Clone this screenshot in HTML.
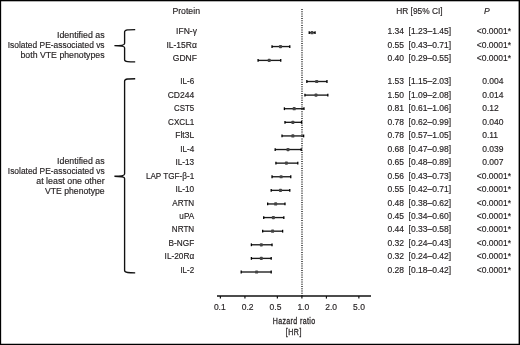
<!DOCTYPE html><html><head><meta charset="utf-8"><style>html,body{margin:0;padding:0;background:#fff;}svg{display:block;will-change:transform;}text{font-family:"Liberation Sans",sans-serif;fill:#231f20;stroke:#231f20;stroke-width:0.16px;}</style></head><body>
<svg width="520" height="345" viewBox="0 0 520 345">
<rect x="0" y="0" width="520" height="345" fill="#fff"/>
<rect x="0" y="0" width="520" height="1.3" fill="#000"/>
<rect x="0" y="0" width="1.15" height="345" fill="#000"/>
<rect x="518.6" y="0" width="1.4" height="345" fill="#000"/>
<rect x="0" y="343.75" width="520" height="1.25" fill="#000"/>
<text x="172.4" y="13.9" font-size="8.5" textLength="27.6" lengthAdjust="spacingAndGlyphs">Protein</text>
<text x="396.2" y="13.8" font-size="8.5" textLength="46.4" lengthAdjust="spacingAndGlyphs">HR [95% CI]</text>
<text x="483.9" y="13.8" font-size="8.5" font-style="italic">P</text>
<text x="57.00" y="37.6" font-size="8.5" textLength="47.6" lengthAdjust="spacingAndGlyphs">Identified as</text>
<text x="7.70" y="48.1" font-size="8.5" textLength="96.9" lengthAdjust="spacingAndGlyphs">Isolated PE-associated vs</text>
<text x="20.50" y="58.4" font-size="8.5" textLength="84.1" lengthAdjust="spacingAndGlyphs">both VTE phenotypes</text>
<text x="57.10" y="163.5" font-size="8.5" textLength="47.5" lengthAdjust="spacingAndGlyphs">Identified as</text>
<text x="7.80" y="173.8" font-size="8.5" textLength="96.8" lengthAdjust="spacingAndGlyphs">Isolated PE-associated vs</text>
<text x="36.30" y="184.2" font-size="8.5" textLength="68.3" lengthAdjust="spacingAndGlyphs">at least one other</text>
<text x="45.00" y="194.2" font-size="8.5" textLength="59.6" lengthAdjust="spacingAndGlyphs">VTE phenotype</text>
<path d="M135.2,29.6 C129.2,29.6 124.6,29.6 124.6,31.8 L124.6,43.4 C124.6,45.0 121.6,45.6 114.4,45.6 C121.6,45.6 124.6,46.2 124.6,47.800000000000004 L124.6,59.699999999999996 C124.6,61.9 129.2,61.9 135.2,61.9" fill="none" stroke="#111" stroke-width="1.35"/>
<path d="M135.2,78.7 C129.2,78.7 124.6,78.7 124.6,80.9 L124.6,174.0 C124.6,175.6 121.6,176.2 114.4,176.2 C121.6,176.2 124.6,176.79999999999998 124.6,178.39999999999998 L124.6,270.6 C124.6,272.8 129.2,272.8 135.2,272.8" fill="none" stroke="#111" stroke-width="1.35"/>
<line x1="302" y1="9" x2="302" y2="296" stroke="#1a1a1a" stroke-width="1.4" stroke-dasharray="1.0 1.27"/>
<text x="196.9" y="34.00" font-size="8.5" text-anchor="end">IFN-γ</text>
<text x="387.5" y="34.00" font-size="8.5">1.34</text>
<text x="408.6" y="34.00" font-size="8.5">[1.23–1.45]</text>
<text x="482.2" y="34.00" font-size="8.5"><tspan dx="-5.4">&lt;</tspan>0.0001*</text>
<line x1="309.23" y1="32.70" x2="315.05" y2="32.70" stroke="#1a1a1a" stroke-width="1.35"/>
<line x1="309.23" y1="31.30" x2="309.23" y2="34.10" stroke="#000" stroke-width="1.3"/>
<line x1="315.05" y1="31.30" x2="315.05" y2="34.10" stroke="#000" stroke-width="1.3"/>
<rect x="310.46" y="31.10" width="3.1" height="3.2" rx="0.9" fill="#444"/>
<text x="196.9" y="47.50" font-size="8.5" text-anchor="end">IL-15Rα</text>
<text x="387.5" y="47.50" font-size="8.5">0.55</text>
<text x="408.6" y="47.50" font-size="8.5">[0.43–0.71]</text>
<text x="482.2" y="47.50" font-size="8.5"><tspan dx="-5.4">&lt;</tspan>0.0001*</text>
<line x1="272.03" y1="46.55" x2="289.78" y2="46.55" stroke="#1a1a1a" stroke-width="1.35"/>
<line x1="272.03" y1="45.15" x2="272.03" y2="47.95" stroke="#000" stroke-width="1.3"/>
<line x1="289.78" y1="45.15" x2="289.78" y2="47.95" stroke="#000" stroke-width="1.3"/>
<rect x="278.94" y="44.95" width="3.1" height="3.2" rx="0.9" fill="#444"/>
<text x="196.9" y="61.00" font-size="8.5" text-anchor="end">GDNF</text>
<text x="387.5" y="61.00" font-size="8.5">0.40</text>
<text x="408.6" y="61.00" font-size="8.5">[0.29–0.55]</text>
<text x="482.2" y="61.00" font-size="8.5"><tspan dx="-5.4">&lt;</tspan>0.0001*</text>
<line x1="258.09" y1="60.40" x2="280.74" y2="60.40" stroke="#1a1a1a" stroke-width="1.35"/>
<line x1="258.09" y1="59.00" x2="258.09" y2="61.80" stroke="#000" stroke-width="1.3"/>
<line x1="280.74" y1="59.00" x2="280.74" y2="61.80" stroke="#000" stroke-width="1.3"/>
<rect x="267.67" y="58.80" width="3.1" height="3.2" rx="0.9" fill="#444"/>
<text x="194.2" y="84.30" font-size="8.5" text-anchor="end" transform="translate(194.2,0) scale(0.957,1) translate(-194.2,0)">IL-6</text>
<text x="387.5" y="84.30" font-size="8.5">1.53</text>
<text x="408.6" y="84.30" font-size="8.5">[1.15–2.03]</text>
<text x="482.2" y="84.30" font-size="8.5">0.004</text>
<line x1="306.85" y1="81.50" x2="326.96" y2="81.50" stroke="#1a1a1a" stroke-width="1.35"/>
<line x1="306.85" y1="80.10" x2="306.85" y2="82.90" stroke="#000" stroke-width="1.3"/>
<line x1="326.96" y1="80.10" x2="326.96" y2="82.90" stroke="#000" stroke-width="1.3"/>
<rect x="315.15" y="79.90" width="3.1" height="3.2" rx="0.9" fill="#444"/>
<text x="194.2" y="97.77" font-size="8.5" text-anchor="end">CD244</text>
<text x="387.5" y="97.77" font-size="8.5">1.50</text>
<text x="408.6" y="97.77" font-size="8.5">[1.09–2.08]</text>
<text x="482.2" y="97.77" font-size="8.5">0.014</text>
<line x1="304.95" y1="95.11" x2="327.82" y2="95.11" stroke="#1a1a1a" stroke-width="1.35"/>
<line x1="304.95" y1="93.71" x2="304.95" y2="96.51" stroke="#000" stroke-width="1.3"/>
<line x1="327.82" y1="93.71" x2="327.82" y2="96.51" stroke="#000" stroke-width="1.3"/>
<rect x="314.45" y="93.51" width="3.1" height="3.2" rx="0.9" fill="#444"/>
<text x="194.2" y="111.24" font-size="8.5" text-anchor="end" transform="translate(194.2,0) scale(0.93,1) translate(-194.2,0)">CST5</text>
<text x="387.5" y="111.24" font-size="8.5">0.81</text>
<text x="408.6" y="111.24" font-size="8.5">[0.61–1.06]</text>
<text x="482.2" y="111.24" font-size="8.5">0.12</text>
<line x1="284.40" y1="108.71" x2="303.96" y2="108.71" stroke="#1a1a1a" stroke-width="1.35"/>
<line x1="284.40" y1="107.31" x2="284.40" y2="110.11" stroke="#000" stroke-width="1.3"/>
<line x1="303.96" y1="107.31" x2="303.96" y2="110.11" stroke="#000" stroke-width="1.3"/>
<rect x="292.64" y="107.11" width="3.1" height="3.2" rx="0.9" fill="#444"/>
<text x="194.2" y="124.71" font-size="8.5" text-anchor="end" transform="translate(194.2,0) scale(0.956,1) translate(-194.2,0)">CXCL1</text>
<text x="387.5" y="124.71" font-size="8.5">0.78</text>
<text x="408.6" y="124.71" font-size="8.5">[0.62–0.99]</text>
<text x="482.2" y="124.71" font-size="8.5">0.040</text>
<line x1="284.98" y1="122.32" x2="301.54" y2="122.32" stroke="#1a1a1a" stroke-width="1.35"/>
<line x1="284.98" y1="120.92" x2="284.98" y2="123.72" stroke="#000" stroke-width="1.3"/>
<line x1="301.54" y1="120.92" x2="301.54" y2="123.72" stroke="#000" stroke-width="1.3"/>
<rect x="291.31" y="120.72" width="3.1" height="3.2" rx="0.9" fill="#444"/>
<text x="194.2" y="138.18" font-size="8.5" text-anchor="end">Flt3L</text>
<text x="387.5" y="138.18" font-size="8.5">0.78</text>
<text x="408.6" y="138.18" font-size="8.5">[0.57–1.05]</text>
<text x="482.2" y="138.18" font-size="8.5">0.11</text>
<line x1="282.00" y1="135.93" x2="303.63" y2="135.93" stroke="#1a1a1a" stroke-width="1.35"/>
<line x1="282.00" y1="134.53" x2="282.00" y2="137.33" stroke="#000" stroke-width="1.3"/>
<line x1="303.63" y1="134.53" x2="303.63" y2="137.33" stroke="#000" stroke-width="1.3"/>
<rect x="291.31" y="134.33" width="3.1" height="3.2" rx="0.9" fill="#444"/>
<text x="194.2" y="151.65" font-size="8.5" text-anchor="end" transform="translate(194.2,0) scale(0.957,1) translate(-194.2,0)">IL-4</text>
<text x="387.5" y="151.65" font-size="8.5">0.68</text>
<text x="408.6" y="151.65" font-size="8.5">[0.47–0.98]</text>
<text x="482.2" y="151.65" font-size="8.5">0.039</text>
<line x1="275.18" y1="149.53" x2="301.18" y2="149.53" stroke="#1a1a1a" stroke-width="1.35"/>
<line x1="275.18" y1="148.13" x2="275.18" y2="150.94" stroke="#000" stroke-width="1.3"/>
<line x1="301.18" y1="148.13" x2="301.18" y2="150.94" stroke="#000" stroke-width="1.3"/>
<rect x="286.45" y="147.94" width="3.1" height="3.2" rx="0.9" fill="#444"/>
<text x="194.2" y="165.12" font-size="8.5" text-anchor="end" transform="translate(194.2,0) scale(0.969,1) translate(-194.2,0)">IL-13</text>
<text x="387.5" y="165.12" font-size="8.5">0.65</text>
<text x="408.6" y="165.12" font-size="8.5">[0.48–0.89]</text>
<text x="482.2" y="165.12" font-size="8.5">0.007</text>
<line x1="275.92" y1="163.14" x2="297.78" y2="163.14" stroke="#1a1a1a" stroke-width="1.35"/>
<line x1="275.92" y1="161.74" x2="275.92" y2="164.54" stroke="#000" stroke-width="1.3"/>
<line x1="297.78" y1="161.74" x2="297.78" y2="164.54" stroke="#000" stroke-width="1.3"/>
<rect x="284.85" y="161.54" width="3.1" height="3.2" rx="0.9" fill="#444"/>
<text x="145.90" y="178.59" font-size="8.5" textLength="48.3" lengthAdjust="spacingAndGlyphs">LAP TGF-β-1</text>
<text x="387.5" y="178.59" font-size="8.5">0.56</text>
<text x="408.6" y="178.59" font-size="8.5">[0.43–0.73]</text>
<text x="482.2" y="178.59" font-size="8.5"><tspan dx="-5.4">&lt;</tspan>0.0001*</text>
<line x1="272.03" y1="176.75" x2="290.76" y2="176.75" stroke="#1a1a1a" stroke-width="1.35"/>
<line x1="272.03" y1="175.35" x2="272.03" y2="178.15" stroke="#000" stroke-width="1.3"/>
<line x1="290.76" y1="175.35" x2="290.76" y2="178.15" stroke="#000" stroke-width="1.3"/>
<rect x="279.58" y="175.15" width="3.1" height="3.2" rx="0.9" fill="#444"/>
<text x="194.2" y="192.06" font-size="8.5" text-anchor="end" transform="translate(194.2,0) scale(0.969,1) translate(-194.2,0)">IL-10</text>
<text x="387.5" y="192.06" font-size="8.5">0.55</text>
<text x="408.6" y="192.06" font-size="8.5">[0.42–0.71]</text>
<text x="482.2" y="192.06" font-size="8.5"><tspan dx="-5.4">&lt;</tspan>0.0001*</text>
<line x1="271.19" y1="190.36" x2="289.78" y2="190.36" stroke="#1a1a1a" stroke-width="1.35"/>
<line x1="271.19" y1="188.96" x2="271.19" y2="191.76" stroke="#000" stroke-width="1.3"/>
<line x1="289.78" y1="188.96" x2="289.78" y2="191.76" stroke="#000" stroke-width="1.3"/>
<rect x="278.94" y="188.76" width="3.1" height="3.2" rx="0.9" fill="#444"/>
<text x="194.2" y="205.53" font-size="8.5" text-anchor="end" transform="translate(194.2,0) scale(0.957,1) translate(-194.2,0)">ARTN</text>
<text x="387.5" y="205.53" font-size="8.5">0.48</text>
<text x="408.6" y="205.53" font-size="8.5">[0.38–0.62]</text>
<text x="482.2" y="205.53" font-size="8.5"><tspan dx="-5.4">&lt;</tspan>0.0001*</text>
<line x1="267.65" y1="203.96" x2="284.98" y2="203.96" stroke="#1a1a1a" stroke-width="1.35"/>
<line x1="267.65" y1="202.56" x2="267.65" y2="205.36" stroke="#000" stroke-width="1.3"/>
<line x1="284.98" y1="202.56" x2="284.98" y2="205.36" stroke="#000" stroke-width="1.3"/>
<rect x="274.12" y="202.36" width="3.1" height="3.2" rx="0.9" fill="#444"/>
<text x="194.2" y="219.00" font-size="8.5" text-anchor="end" transform="translate(194.2,0) scale(0.961,1) translate(-194.2,0)">uPA</text>
<text x="387.5" y="219.00" font-size="8.5">0.45</text>
<text x="408.6" y="219.00" font-size="8.5">[0.34–0.60]</text>
<text x="482.2" y="219.00" font-size="8.5"><tspan dx="-5.4">&lt;</tspan>0.0001*</text>
<line x1="263.72" y1="217.57" x2="283.82" y2="217.57" stroke="#1a1a1a" stroke-width="1.35"/>
<line x1="263.72" y1="216.17" x2="263.72" y2="218.97" stroke="#000" stroke-width="1.3"/>
<line x1="283.82" y1="216.17" x2="283.82" y2="218.97" stroke="#000" stroke-width="1.3"/>
<rect x="271.84" y="215.97" width="3.1" height="3.2" rx="0.9" fill="#444"/>
<text x="194.2" y="232.47" font-size="8.5" text-anchor="end" transform="translate(194.2,0) scale(0.953,1) translate(-194.2,0)">NRTN</text>
<text x="387.5" y="232.47" font-size="8.5">0.44</text>
<text x="408.6" y="232.47" font-size="8.5">[0.33–0.58]</text>
<text x="482.2" y="232.47" font-size="8.5"><tspan dx="-5.4">&lt;</tspan>0.0001*</text>
<line x1="262.66" y1="231.18" x2="282.62" y2="231.18" stroke="#1a1a1a" stroke-width="1.35"/>
<line x1="262.66" y1="229.78" x2="262.66" y2="232.58" stroke="#000" stroke-width="1.3"/>
<line x1="282.62" y1="229.78" x2="282.62" y2="232.58" stroke="#000" stroke-width="1.3"/>
<rect x="271.04" y="229.58" width="3.1" height="3.2" rx="0.9" fill="#444"/>
<text x="194.2" y="245.94" font-size="8.5" text-anchor="end" transform="translate(194.2,0) scale(0.97,1) translate(-194.2,0)">B-NGF</text>
<text x="387.5" y="245.94" font-size="8.5">0.32</text>
<text x="408.6" y="245.94" font-size="8.5">[0.24–0.43]</text>
<text x="482.2" y="245.94" font-size="8.5"><tspan dx="-5.4">&lt;</tspan>0.0001*</text>
<line x1="251.39" y1="244.78" x2="272.03" y2="244.78" stroke="#1a1a1a" stroke-width="1.35"/>
<line x1="251.39" y1="243.38" x2="251.39" y2="246.18" stroke="#000" stroke-width="1.3"/>
<line x1="272.03" y1="243.38" x2="272.03" y2="246.18" stroke="#000" stroke-width="1.3"/>
<rect x="259.77" y="243.18" width="3.1" height="3.2" rx="0.9" fill="#444"/>
<text x="194.2" y="259.41" font-size="8.5" text-anchor="end" transform="translate(194.2,0) scale(0.974,1) translate(-194.2,0)">IL-20Rα</text>
<text x="387.5" y="259.41" font-size="8.5">0.32</text>
<text x="408.6" y="259.41" font-size="8.5">[0.24–0.42]</text>
<text x="482.2" y="259.41" font-size="8.5"><tspan dx="-5.4">&lt;</tspan>0.0001*</text>
<line x1="251.39" y1="258.39" x2="271.19" y2="258.39" stroke="#1a1a1a" stroke-width="1.35"/>
<line x1="251.39" y1="256.99" x2="251.39" y2="259.79" stroke="#000" stroke-width="1.3"/>
<line x1="271.19" y1="256.99" x2="271.19" y2="259.79" stroke="#000" stroke-width="1.3"/>
<rect x="259.77" y="256.79" width="3.1" height="3.2" rx="0.9" fill="#444"/>
<text x="194.2" y="272.88" font-size="8.5" text-anchor="end" transform="translate(194.2,0) scale(0.943,1) translate(-194.2,0)">IL-2</text>
<text x="387.5" y="272.88" font-size="8.5">0.28</text>
<text x="408.6" y="272.88" font-size="8.5">[0.18–0.42]</text>
<text x="482.2" y="272.88" font-size="8.5"><tspan dx="-5.4">&lt;</tspan>0.0001*</text>
<line x1="241.20" y1="272.00" x2="271.19" y2="272.00" stroke="#1a1a1a" stroke-width="1.35"/>
<line x1="241.20" y1="270.60" x2="241.20" y2="273.40" stroke="#000" stroke-width="1.3"/>
<line x1="271.19" y1="270.60" x2="271.19" y2="273.40" stroke="#000" stroke-width="1.3"/>
<rect x="255.04" y="270.40" width="3.1" height="3.2" rx="0.9" fill="#444"/>
<line x1="217" y1="296" x2="371" y2="296" stroke="#111" stroke-width="1.7"/>
<line x1="220.40" y1="296" x2="220.40" y2="298.6" stroke="#111" stroke-width="1.2"/>
<text x="219.80" y="309.6" font-size="8.5" text-anchor="middle">0.1</text>
<line x1="244.93" y1="296" x2="244.93" y2="298.6" stroke="#111" stroke-width="1.2"/>
<text x="247.64" y="309.6" font-size="8.5" text-anchor="middle">0.2</text>
<line x1="277.37" y1="296" x2="277.37" y2="298.6" stroke="#111" stroke-width="1.2"/>
<text x="275.48" y="309.6" font-size="8.5" text-anchor="middle">0.5</text>
<line x1="301.90" y1="296" x2="301.90" y2="298.6" stroke="#111" stroke-width="1.2"/>
<text x="303.32" y="309.6" font-size="8.5" text-anchor="middle">1.0</text>
<line x1="326.43" y1="296" x2="326.43" y2="298.6" stroke="#111" stroke-width="1.2"/>
<text x="331.16" y="309.6" font-size="8.5" text-anchor="middle">2.0</text>
<line x1="358.87" y1="296" x2="358.87" y2="298.6" stroke="#111" stroke-width="1.2"/>
<text x="359.00" y="309.6" font-size="8.5" text-anchor="middle">5.0</text>
<text x="293.9" y="323.6" font-size="9.5" style="stroke-width:0.3px" text-anchor="middle" textLength="57.30" lengthAdjust="spacing" transform="translate(293.9,0) scale(0.74,1) translate(-293.9,0)">Hazard ratio</text>
<text x="293.6" y="335.2" font-size="9.5" style="stroke-width:0.3px" text-anchor="middle" textLength="21.08" lengthAdjust="spacing" transform="translate(293.6,0) scale(0.74,1) translate(-293.6,0)">[HR]</text>
</svg></body></html>
